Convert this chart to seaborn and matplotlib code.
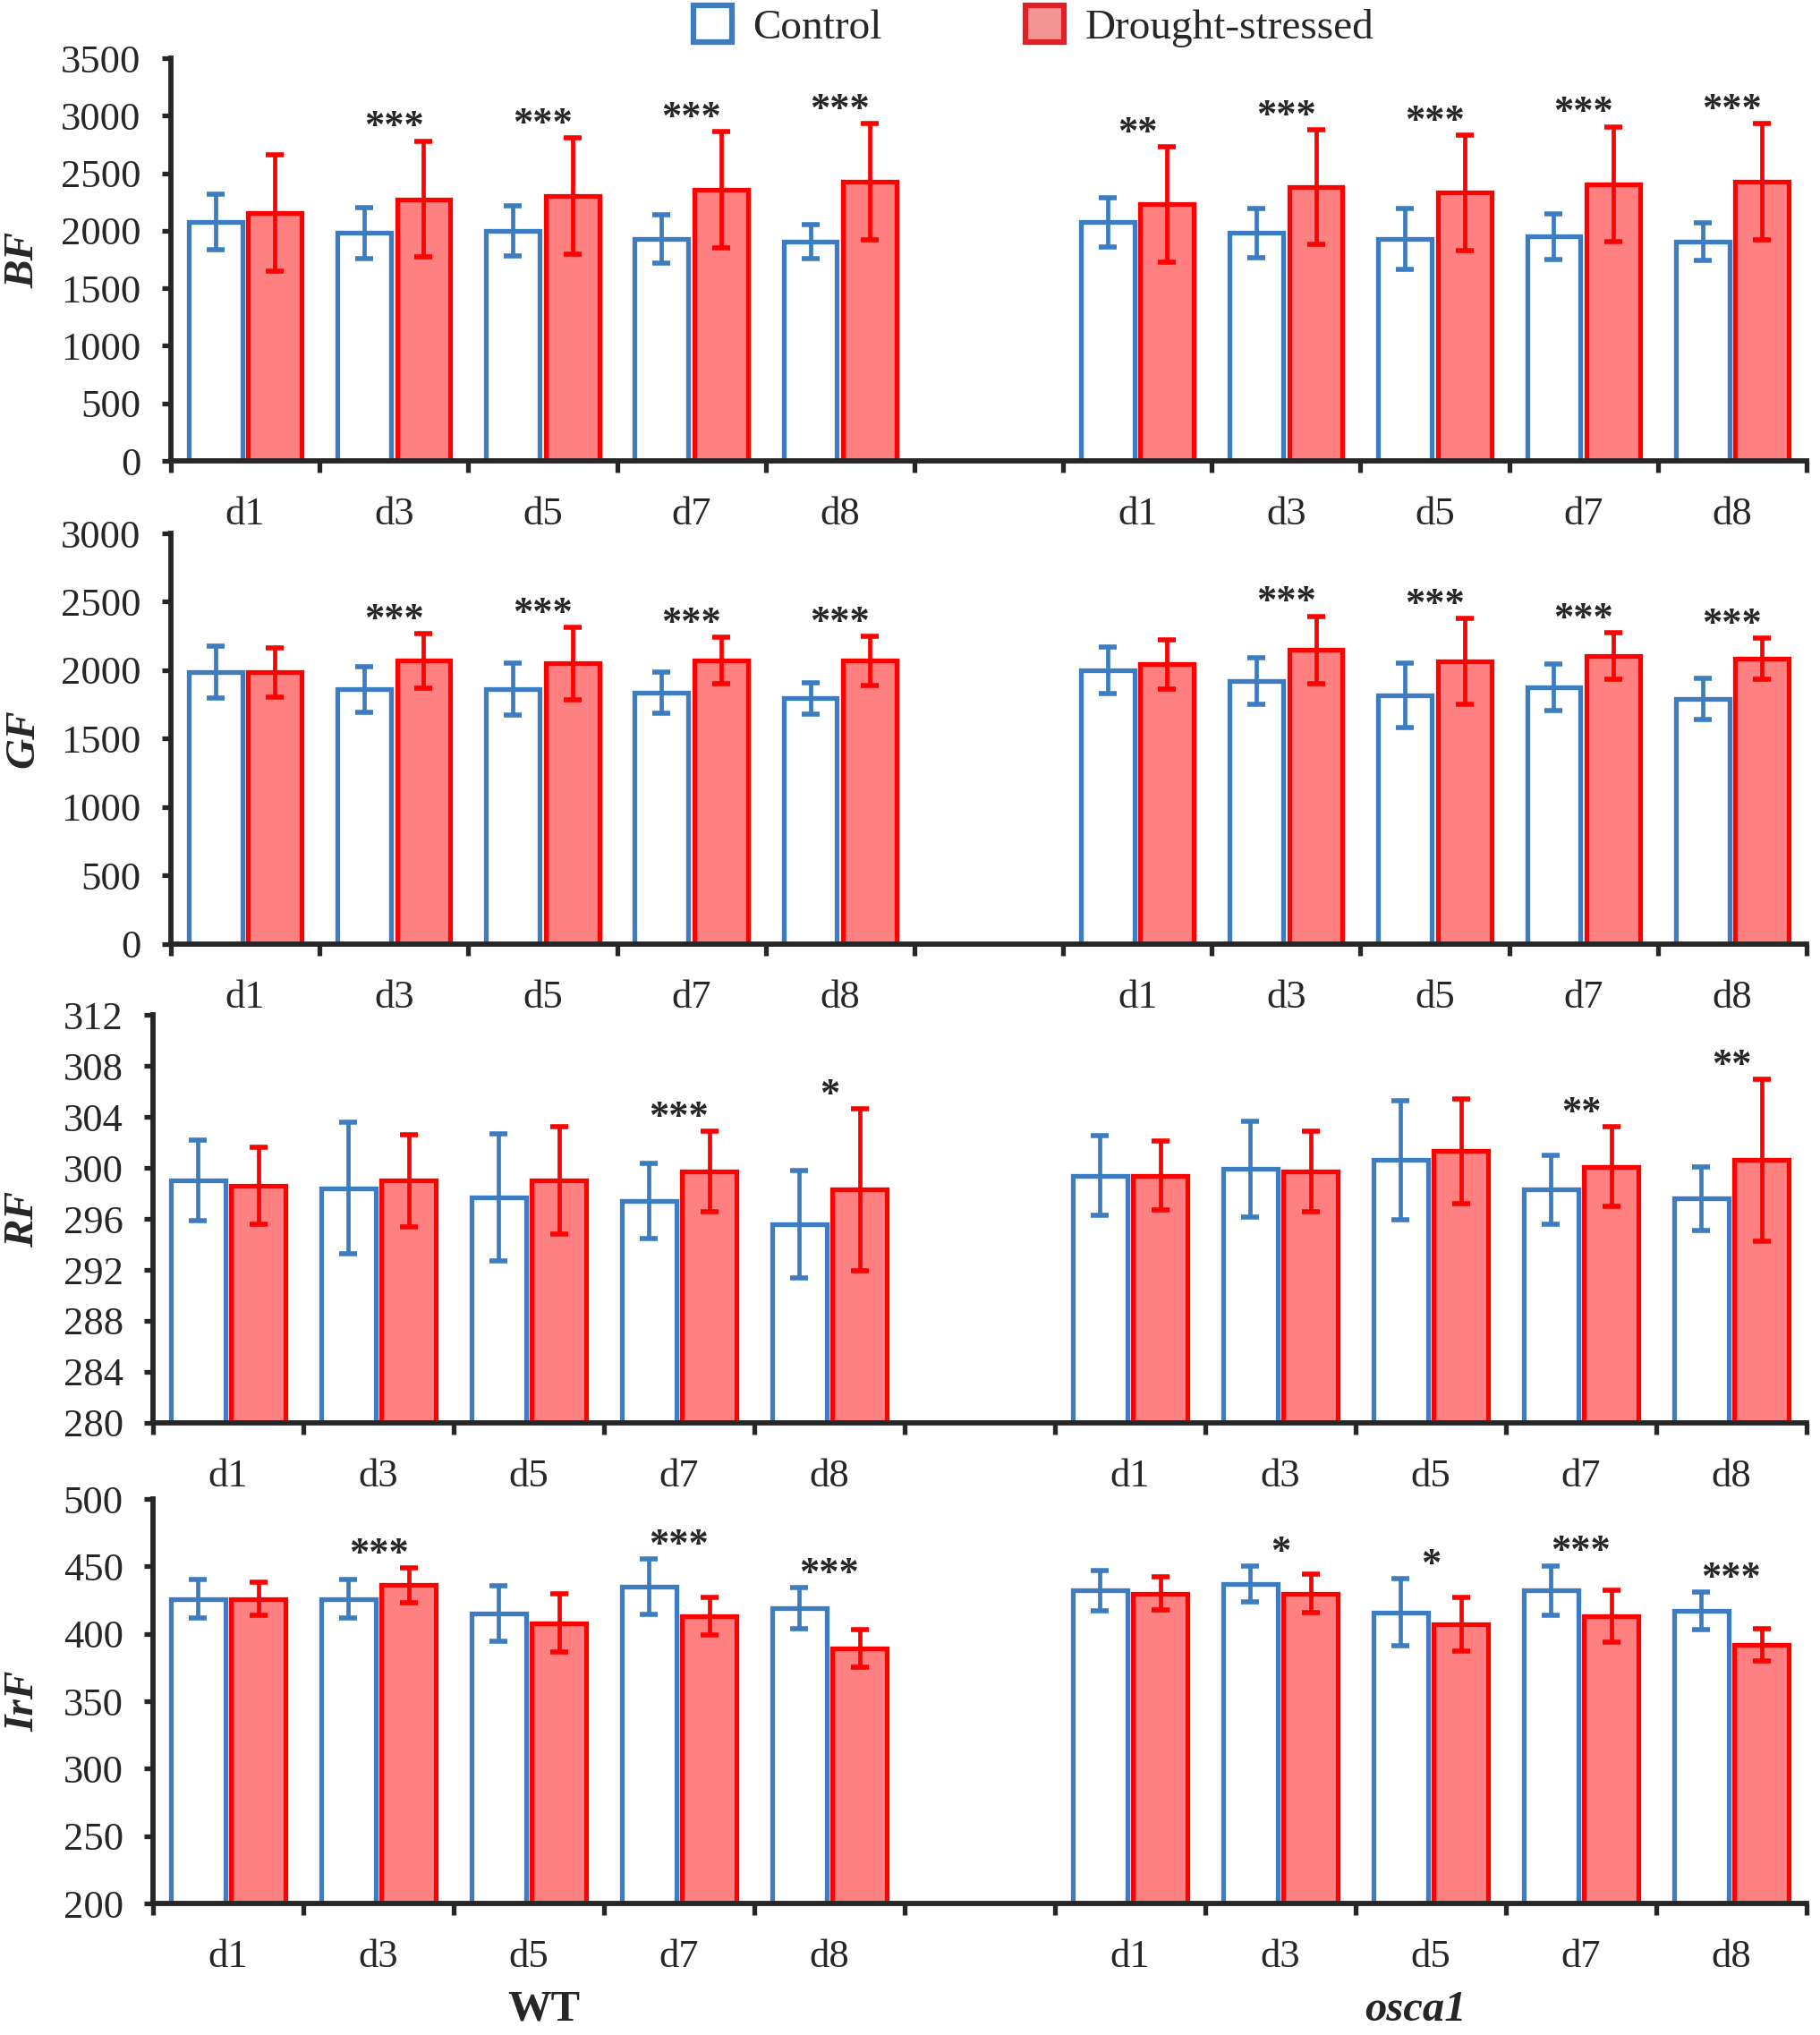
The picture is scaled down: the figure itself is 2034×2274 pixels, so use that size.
import numpy as np
import pandas as pd
import matplotlib
matplotlib.use('Agg')
import matplotlib.pyplot as plt
import matplotlib.transforms as mtransforms
from matplotlib.patches import Patch
import seaborn as sns

sns.set_style('ticks')
plt.rcParams['font.family'] = ['Liberation Serif', 'DejaVu Serif']

days = ['d1', 'd3', 'd5', 'd7', 'd8']
genotypes = ['WT', 'osca1']
treatments = ['Control', 'Drought-stressed']

# 값 순서 : WT d1..d8, osca1 d1..d8 (평균, 표준편차)
bf_ctrl = [2075, 1980, 2000, 1930, 1905, 2075, 1980, 1930, 1950, 1905]
bf_ctrl_sd = [240, 220, 215, 210, 150, 215, 215, 265, 200, 165]
bf_drought = [2155, 2275, 2305, 2355, 2430, 2230, 2380, 2330, 2405, 2430]
bf_drought_sd = [505, 505, 505, 505, 505, 500, 500, 500, 500, 505]
bf_sig = ['', '***', '***', '***', '***', '**', '***', '***', '***', '***']

gf_ctrl = [1985, 1860, 1860, 1835, 1795, 2000, 1920, 1815, 1875, 1790]
gf_ctrl_sd = [190, 165, 190, 150, 115, 170, 170, 235, 172, 150]
gf_drought = [1985, 2070, 2050, 2070, 2070, 2045, 2150, 2065, 2105, 2085]
gf_drought_sd = [180, 200, 265, 170, 180, 180, 245, 315, 170, 150]
gf_sig = ['', '***', '***', '***', '***', '', '***', '***', '***', '***']

rf_ctrl = [299.0, 298.4, 297.7, 297.4, 295.6, 299.4, 299.9, 300.6, 298.3, 297.6]
rf_ctrl_sd = [3.15, 5.15, 5.0, 2.95, 4.2, 3.15, 3.75, 4.65, 2.7, 2.5]
rf_drought = [298.6, 299.0, 299.0, 299.7, 298.3, 299.4, 299.7, 301.3, 300.1, 300.6]
rf_drought_sd = [3.05, 3.6, 4.2, 3.15, 6.35, 2.7, 3.15, 4.1, 3.15, 6.35]
rf_sig = ['', '', '', '***', '*', '', '', '', '**', '**']

irf_ctrl = [426, 426, 415, 435, 419, 432, 437, 416, 432, 417]
irf_ctrl_sd = [14.5, 14.5, 20.5, 20.5, 15.4, 15, 13, 25, 18.5, 14]
irf_drought = [426, 436, 408, 413, 389, 430, 430, 407, 413, 392]
irf_drought_sd = [12, 13, 21.5, 14, 14, 12, 14, 20, 19, 12]
irf_sig = ['', '***', '', '***', '***', '', '*', '*', '***', '***']

blue = '#3B7DC0'
red = '#FF0000'
pink = '#FF8080'

slot_names = [f'{g} {d}' for g in genotypes for d in days]
order = slot_names[:5] + ['gap'] + slot_names[5:]
tick_labels = days + [''] + days

panels = [
    ('BF', bf_ctrl, bf_ctrl_sd, bf_drought, bf_drought_sd, bf_sig, np.arange(0, 3501, 500),
     [0.0939, 0.7735, 0.8987, 0.1979]),
    ('GF', gf_ctrl, gf_ctrl_sd, gf_drought, gf_drought_sd, gf_sig, np.arange(0, 3001, 500),
     [0.0939, 0.5361, 0.8987, 0.2018]),
    ('RF', rf_ctrl, rf_ctrl_sd, rf_drought, rf_drought_sd, rf_sig, np.arange(280, 313, 4),
     [0.0841, 0.3008, 0.9085, 0.2005]),
    ('IrF', irf_ctrl, irf_ctrl_sd, irf_drought, irf_drought_sd, irf_sig, np.arange(200, 501, 50),
     [0.0841, 0.0646, 0.9085, 0.1988]),
]

fig = plt.figure(figsize=(20.34, 22.74), dpi=100)

for name, ctrl, ctrl_sd, dr, dr_sd, sig, yt, rect in panels:
    ax = fig.add_axes(rect)
    df = pd.DataFrame({'slot': slot_names * 2,
                       'treatment': ['Control'] * 10 + ['Drought-stressed'] * 10,
                       'value': ctrl + dr})
    sns.barplot(data=df, x='slot', y='value', hue='treatment', order=order,
                hue_order=treatments, palette={'Control': 'white', 'Drought-stressed': pink},
                saturation=1, width=0.8, gap=0.1, errorbar=None, legend=False,
                linewidth=3.8, ax=ax)

    for cont, ec, sd in zip(ax.containers, [blue, red], [ctrl_sd, dr_sd]):
        xs, ys = [], []
        for bar in cont:
            bar.set_edgecolor(ec)
            bar.set_linewidth(3.8)
            xs.append(bar.get_x() + bar.get_width() / 2)
            ys.append(bar.get_height())
        ax.errorbar(xs, ys, yerr=sd, fmt='none', ecolor=ec, elinewidth=3.4,
                    capsize=7.5, capthick=4.0, zorder=5)

    for i, s in enumerate(sig):
        if not s:
            continue
        pos = order.index(slot_names[i])
        top = max(ctrl[i] + ctrl_sd[i], dr[i] + dr_sd[i])
        ax.annotate(s, (pos, top), xytext=(0, 3), textcoords='offset points',
                    ha='center', va='baseline', fontsize=32, fontweight='bold')

    ax.set_xlim(-0.5, 10.5)
    ax.set_ylim(yt[0], yt[-1])
    ax.set_yticks(yt)
    ax.set_xticks(np.arange(-0.5, 11, 1), labels=[''] * 12)
    ax.set_xticks(range(11), labels=tick_labels, minor=True)
    ax.tick_params(axis='x', which='major', length=9, width=3.8, direction='out')
    ax.tick_params(axis='x', which='minor', length=0, pad=29, labelsize=32)
    ax.tick_params(axis='y', length=7, width=3.8, direction='out', pad=17, labelsize=32)
    ax.set_xlabel('')
    ax.set_ylabel('')
    sns.despine(ax=ax)
    for sp in ['left', 'bottom']:
        ax.spines[sp].set_linewidth(4.2)
        ax.spines[sp].set_zorder(6)

    left_px = rect[0] * 2034
    width_px = rect[2] * 2034
    ax.text((26 - left_px) / width_px, 0.5, name, transform=ax.transAxes, rotation=90,
            ha='center', va='center', fontsize=34, fontweight='bold', fontstyle='italic')

# 그룹 라벨
tr = mtransforms.blended_transform_factory(ax.transData, fig.transFigure)
ax.text(2.1, 0.0125, 'WT', transform=tr, ha='center', va='center', fontsize=35, fontweight='bold')
ax.text(7.9, 0.0125, 'osca1', transform=tr, ha='center', va='center', fontsize=35,
        fontweight='bold', fontstyle='italic')

handles = [Patch(facecolor='white', edgecolor=blue, linewidth=4.5, label='Control'),
           Patch(facecolor='#F39496', edgecolor='#E31E24', linewidth=4.5, label='Drought-stressed')]
fig.legend(handles=handles, loc='center', bbox_to_anchor=(0.568, 0.987), ncol=2, frameon=False,
           fontsize=34, handlelength=0.9, handleheight=0.95, handletextpad=0.5, columnspacing=3.4)

fig.savefig('out.png', dpi=100)
